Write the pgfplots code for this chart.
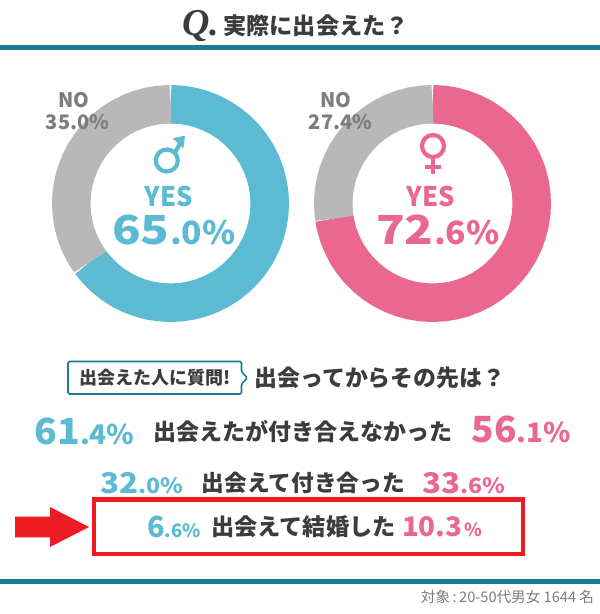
\documentclass[border=0pt]{standalone}
\usepackage{fontspec}
\usepackage{pgfplots}
\pgfplotsset{compat=1.18}
\usepgfplotslibrary{polar}
\setmainfont{Noto Sans CJK JP}
\newfontfamily\qfont{Liberation Serif}
\definecolor{cblue}{HTML}{5CBAD3}
\definecolor{cpink}{HTML}{EA6890}
\definecolor{cgray}{HTML}{B8B8B8}
\definecolor{cteal}{HTML}{1B7A94}
\definecolor{ctext}{HTML}{3C3C3C}
\definecolor{cno}{HTML}{7D7D7D}
\definecolor{cred}{HTML}{ED1C24}
\newcommand{\fs}[1]{\fontsize{#1}{#1}\selectfont}
\pgfplotsset{donut/.style={hide axis, scale only axis, width=237pt, height=237pt,
  xmin=0, xmax=360, ymin=0, ymax=118.5, clip=false, anchor=center},
  ring/.style={no marks, line width=38.5pt, line cap=butt, line join=round}}
\begin{document}
\begin{tikzpicture}
\path[use as bounding box, fill=white] (0pt,0pt) rectangle (600pt,614pt);
% left donut (men): YES 65.0, NO 35.0
\begin{polaraxis}[donut, at={(170.5pt,410.5pt)}]
\addplot[ring, draw=cblue] coordinates {(90,99.25)(84,99.25)(78,99.25)(72,99.25)(66,99.25)(60,99.25)(54,99.25)(48,99.25)(42,99.25)(36,99.25)(30,99.25)(24,99.25)(18,99.25)(12,99.25)(6,99.25)(0,99.25)(-6,99.25)(-12,99.25)(-18,99.25)(-24,99.25)(-30,99.25)(-36,99.25)(-42,99.25)(-48,99.25)(-54,99.25)(-60,99.25)(-66,99.25)(-72,99.25)(-78,99.25)(-84,99.25)(-90,99.25)(-96,99.25)(-102,99.25)(-108,99.25)(-114,99.25)(-120,99.25)(-126,99.25)(-132,99.25)(-138,99.25)(-144,99.25)};
\addplot[ring, draw=cgray] coordinates {(-144,99.25)(-150,99.25)(-156,99.25)(-162,99.25)(-168,99.25)(-174,99.25)(-180,99.25)(-186,99.25)(-192,99.25)(-198,99.25)(-204,99.25)(-210,99.25)(-216,99.25)(-222,99.25)(-228,99.25)(-234,99.25)(-240,99.25)(-246,99.25)(-252,99.25)(-258,99.25)(-264,99.25)(-270,99.25)};
\end{polaraxis}
% right donut (women): YES 72.6, NO 27.4
\begin{polaraxis}[donut, at={(432.5pt,410.5pt)}]
\addplot[ring, draw=cpink] coordinates {(90,99.25)(84,99.25)(78,99.25)(72,99.25)(66,99.25)(60,99.25)(54,99.25)(48,99.25)(42,99.25)(36,99.25)(30,99.25)(24,99.25)(18,99.25)(12,99.25)(6,99.25)(0,99.25)(-6,99.25)(-12,99.25)(-18,99.25)(-24,99.25)(-30,99.25)(-36,99.25)(-42,99.25)(-48,99.25)(-54,99.25)(-60,99.25)(-66,99.25)(-72,99.25)(-78,99.25)(-84,99.25)(-90,99.25)(-96,99.25)(-102,99.25)(-108,99.25)(-114,99.25)(-120,99.25)(-126,99.25)(-132,99.25)(-138,99.25)(-144,99.25)(-150,99.25)(-156,99.25)(-162,99.25)(-168,99.25)(-171.36,99.25)};
\addplot[ring, draw=cgray] coordinates {(-171.36,99.25)(-174,99.25)(-180,99.25)(-186,99.25)(-192,99.25)(-198,99.25)(-204,99.25)(-210,99.25)(-216,99.25)(-222,99.25)(-228,99.25)(-234,99.25)(-240,99.25)(-246,99.25)(-252,99.25)(-258,99.25)(-264,99.25)(-270,99.25)};
\end{polaraxis}
\begin{scope}[x=1pt,y=-1pt,shift={(0pt,614pt)},inner sep=0pt,outer sep=0pt]
% rules
\fill[cteal] (0,45) rectangle (600,50);
\fill[cteal] (0,579) rectangle (600,584);
% title
\node[anchor=base,text=ctext] at (201,36) {\qfont\bfseries\itshape\fs{38}Q.};
\node[anchor=center,text=ctext] at (316,25.5) {\bfseries\fs{23.2}実際に出会えた？};
% NO labels
\node[text=cno] at (73.5,100) {\bfseries\fs{20}NO};
\node[text=cno] at (77.5,122.5) {\bfseries\fs{20}35.0\%};
\node[text=cno] at (336,100) {\bfseries\fs{20}NO};
\node[text=cno] at (340.5,122.5) {\bfseries\fs{20}27.4\%};
% male symbol
\draw[cblue,line width=4.2pt] (166.8,160.5) circle (11);
\draw[cblue,line width=4.2pt] (175,152.5) -- (181,142);
\fill[cblue] (185,135.7) -- (172.7,138.3) -- (183.3,148.3) -- cycle;
% female symbol
\draw[cpink,line width=4.2pt] (433,146) circle (11);
\draw[cpink,line width=4.2pt] (433,157) -- (433,174);
\draw[cpink,line width=4.2pt] (424.6,166.7) -- (441.4,166.7);
% YES
\node[text=cblue,xscale=0.95] at (168.5,196.7) {\bfseries\fs{27}YES};
\node[text=cpink,xscale=0.95] at (431,196.7) {\bfseries\fs{27}YES};
\node[anchor=base west,text=cblue,xscale=1.18] at (112,244.5) {\bfseries\fs{40}65};
\node[anchor=base west,text=cblue,xscale=1.05] at (170,244.5) {\bfseries\fs{32}.0\%};
\node[anchor=base west,text=cpink,xscale=1.18] at (376,244.5) {\bfseries\fs{40}72};
\node[anchor=base west,text=cpink,xscale=1.05] at (434,244.5) {\bfseries\fs{32}.6\%};
% tag
\draw[cteal,line width=1.6pt,rounded corners=1.5pt,fill=white] (68,361.5) -- (241.5,361.5) -- (241.5,372) -- (247.5,378) -- (241.5,384) -- (241.5,394) -- (68,394) -- cycle;
\node[text=ctext] at (155,378) {\bfseries\fs{18}出会えた人に質問!};
\node[text=ctext] at (380,378) {\bfseries\fs{22.9}出会ってからその先は？};
% row 1
\node[anchor=base west,text=cblue,xscale=1.04] at (34.4,445) {\bfseries\fs{36}61\fs{27}.4\%};
\node[text=ctext] at (303,431.7) {\bfseries\fs{23}出会えたが付き合えなかった};
\node[anchor=base west,text=cpink,xscale=1.03] at (471.5,443) {\bfseries\fs{36}56\fs{27}.1\%};
% row 2
\node[anchor=base west,text=cblue,xscale=1.1] at (100,494) {\bfseries\fs{28.5}32\fs{21}.0\%};
\node[text=ctext] at (303.5,482.7) {\bfseries\fs{22.7}出会えて付き合った};
\node[anchor=base west,text=cpink,xscale=1.1] at (422,494) {\bfseries\fs{28.5}33\fs{21}.6\%};
% highlight box
\draw[cred,line width=4.3pt] (94.2,499.5) rectangle (522.8,553.8);
\node[anchor=base west,text=cblue] at (147,538) {\bfseries\fs{29}6\fs{18.5}.6\%};
\node[text=ctext] at (303.5,527) {\bfseries\fs{23.2}出会えて結婚した};
\node[anchor=base west,text=cpink,xscale=1.03] at (402,536.7) {\bfseries\fs{27}10.3};
\node[anchor=base west,text=cpink] at (464,536.7) {\bfseries\fs{18}\%};
% arrow
\fill[cred] (15,516.7) -- (50,516.7) -- (50,507) -- (89,527) -- (50,547) -- (50,537.3) -- (15,537.3) -- cycle;
% footer
\node[anchor=east,text=cno] at (594,596.7) {\fs{14.6}対象\hspace{2.5pt}:\hspace{2.5pt}20-50代男女 1644 名};
\end{scope}
\end{tikzpicture}
\end{document}
